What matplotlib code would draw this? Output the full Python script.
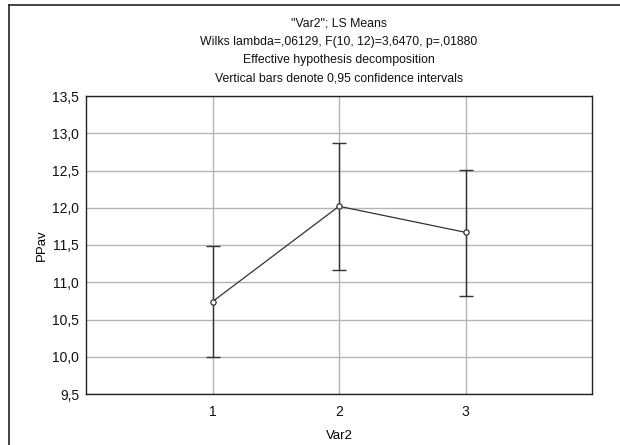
import matplotlib
matplotlib.use("Agg")
import matplotlib.pyplot as plt
from matplotlib.lines import Line2D

plt.rcParams['font.family'] = ['Liberation Sans', 'DejaVu Sans']

categories = [1, 2, 3]
means = [10.74, 12.02, 11.67]
lower = [9.99, 11.17, 10.82]
upper = [11.49, 12.87, 12.51]
yticks = [9.5, 10.0, 10.5, 11.0, 11.5, 12.0, 12.5, 13.0, 13.5]
title_lines = ['"Var2"; LS Means',
               'Wilks lambda=,06129, F(10, 12)=3,6470, p=,01880',
               'Effective hypothesis decomposition',
               'Vertical bars denote 0,95 confidence intervals']

W, H = 620, 445
fig = plt.figure(figsize=(W/100, H/100), dpi=100)

# Outer frame (left and top edges visible)
fig.add_artist(Line2D([8.5/W, 8.5/W], [0, 1 - 4.5/H], transform=fig.transFigure, color='#222222', lw=1.2))
fig.add_artist(Line2D([8.5/W, 1], [1 - 4.5/H, 1 - 4.5/H], transform=fig.transFigure, color='#222222', lw=1.2))

ax = fig.add_axes([86/W, 1 - 394/H, (592-86)/W, (394-96)/H])

ax.set_xlim(0, 4)
ax.set_ylim(9.5, 13.5)
ax.set_xticks(categories)
ax.set_xticklabels([str(c) for c in categories])
ax.set_yticks(yticks)
ax.set_yticklabels([f"{v:.1f}".replace('.', ',') for v in yticks])
ax.grid(True, color='#b4b4b4', lw=1.0)
ax.set_axisbelow(True)
ax.tick_params(length=0, labelsize=10, colors='#111111', pad=5)
ax.tick_params(axis='x', pad=8)
for s in ax.spines.values():
    s.set_color('#222222')
    s.set_linewidth(1.0)

yerr = [[m - l for m, l in zip(means, lower)], [u - m for m, u in zip(means, upper)]]
ax.errorbar(categories, means, yerr=yerr, fmt='none', ecolor='#333333', elinewidth=1.0,
            capsize=4.8, capthick=1.0, zorder=3)
ax.plot(categories, means, color='#333333', lw=0.9, marker='o', markersize=3.8,
        markerfacecolor='white', markeredgecolor='#333333', markeredgewidth=0.9, zorder=4)

ax.set_xlabel('Var2', fontsize=9.5, labelpad=8)
ax.set_ylabel('PPav', fontsize=9.5, labelpad=3)

ys = [23, 41.5, 60, 78.5]
for t, y in zip(title_lines, ys):
    fig.text(339/W, 1 - y/H, t, ha='center', va='center', fontsize=8.8, color='#111111')

fig.savefig('out.png', dpi=100)
